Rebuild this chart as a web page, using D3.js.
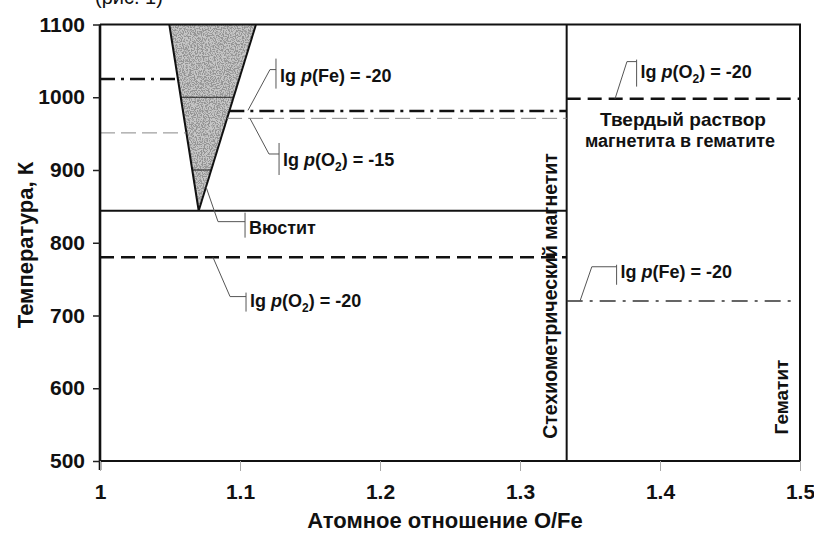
<!DOCTYPE html>
<html>
<head>
<meta charset="utf-8">
<script src="https://cdn.jsdelivr.net/npm/d3@7"></script>
<style>
  body { margin: 0; background: #fff; }
  svg text { font-family: "Liberation Sans", Arial, sans-serif; font-weight: bold; fill: #111; }
</style>
</head>
<body>
<svg id="chart" width="814" height="533"></svg>
<script>
//^^^^^^^^^^^^^^^^^^^^^^^^^^^^^^^^^^^^^^^^^^^^^^^^^^^^^^^^^^^^^^^^^^^^^^^^^^^^^^
// Data: O/Fe ratio vs temperature, K
//------------------------------------------------------------------------------
var xTicks = [1, 1.1, 1.2, 1.3, 1.4, 1.5]
var yTicks = [500, 600, 700, 800, 900, 1000, 1100]
var magnetiteX = 4 / 3

// wüstite field: left edge, apex, right edge
var wustiteLeft = [[1.0495, 1100], [1.0705, 844]]
var wustiteRight = [[1.0705, 844], [1.1114, 1100]]
var wustiteIsotherms = [1000, 900]
var eutectoidT = 844

// isobar segments; "wL"/"wR" = ends on the wüstite boundary
var isobars = [
  {t: 1025, from: 1, to: "wL", style: "dashdot"},
  {t: 951, from: 1, to: "wL", style: "thin"},
  {t: 981, from: "wR", to: magnetiteX, style: "dashdot"},
  {t: 971, from: "wR", to: magnetiteX, style: "thin"},
  {t: 780, from: 1, to: magnetiteX, style: "dash"},
  {t: 998, from: magnetiteX, to: 1.5, style: "dash"},
  {t: 720, from: magnetiteX, to: 1.497, style: "dashdotThin"}
]

// callouts: target point on a line, knee of the leader, bar position
var callouts = [
  {text: ["lg ", "p", "(Fe) = -20"], target: [1.1057, 982], knee: [1.1214, 1038], bar: 1.1257, span: [-11, 19], base: 12},
  {text: ["lg ", "p", "(O", "2", ") = -15"], target: [1.1071, 971], knee: [1.1207, 922], bar: 1.1279, span: [-11, 21], base: 12},
  {text: ["Вюстит"], target: [1.0757, 877], knee: [1.0843, 829], bar: 1.1036, span: [-9, 16], base: 12},
  {text: ["lg ", "p", "(O", "2", ") = -20"], target: [1.0807, 780], knee: [1.0929, 726], bar: 1.1043, span: [-4, 15], base: 10},
  {text: ["lg ", "p", "(O", "2", ") = -20"], target: [1.3679, 998], knee: [1.3764, 1049], bar: 1.3833, span: [-2, 25], base: 16},
  {text: ["lg ", "p", "(Fe) = -20"], target: [1.3429, 720], knee: [1.3513, 767], bar: 1.3690, span: [-2, 18], base: 11}
]

//^^^^^^^^^^^^^^^^^^^^^^^^^^^^^^^^^^^^^^^^^^^^^^^^^^^^^^^^^^^^^^^^^^^^^^^^^^^^^^
// Setup
//------------------------------------------------------------------------------
var svg = d3.select("#chart")
var margin = {left: 100, right: 14, top: 24.5, bottom: 72}
var width = 814 - margin.left - margin.right,
    height = 533 - margin.top - margin.bottom

var x = d3.scaleLinear().domain([1, 1.5]).range([margin.left, margin.left + width])
var y = d3.scaleLinear().domain([500, 1100]).range([margin.top + height, margin.top])

var styles = {
  dash: {stroke: "#111", w: 2.6, dash: "14,7"},
  dashdot: {stroke: "#111", w: 2.6, dash: "15,6,3,6"},
  thin: {stroke: "#888", w: 1, dash: "15,6"},
  dashdotThin: {stroke: "#333", w: 1.4, dash: "16,7,3,7"}
}

function edgeX(edge, t) {
  var e = edge == "wL" ? wustiteLeft : wustiteRight
  var k = (t - e[0][1]) / (e[1][1] - e[0][1])
  return e[0][0] + k * (e[1][0] - e[0][0])
}

var defs = svg.append("defs")
var filt = defs.append("filter").attr("id", "stipple")
  .attr("x", 0).attr("y", 0).attr("width", 1).attr("height", 1)
filt.append("feTurbulence")
  .attr("type", "fractalNoise").attr("baseFrequency", 0.85)
  .attr("numOctaves", 2).attr("seed", 3).attr("result", "n")
filt.append("feColorMatrix").attr("in", "n").attr("type", "matrix")
  .attr("values", "0 0 0 0 0.3  0 0 0 0 0.3  0 0 0 0 0.3  7 0 0 0 -3.1")
  .attr("result", "dots")
filt.append("feComposite").attr("in", "dots").attr("in2", "SourceGraphic").attr("operator", "in")

var tri = [wustiteLeft[0], wustiteLeft[1], wustiteRight[1]]
var triPts = tri.map(function(p){ return x(p[0]) + "," + y(p[1]) }).join(" ")
defs.append("clipPath").attr("id", "triClip")
  .append("polygon").attr("points", triPts)

//^^^^^^^^^^^^^^^^^^^^^^^^^^^^^^^^^^^^^^^^^^^^^^^^^^^^^^^^^^^^^^^^^^^^^^^^^^^^^^
// Wüstite field
//------------------------------------------------------------------------------
svg.append("polygon").attr("points", triPts).attr("fill", "#c6c6c6")
svg.append("polygon").attr("points", triPts).attr("fill", "#000").attr("filter", "url(#stipple)")

svg.append("g").attr("clip-path", "url(#triClip)")
  .selectAll("line").data(wustiteIsotherms).enter().append("line")
  .attr("x1", x(1)).attr("x2", x(1.2))
  .attr("y1", function(t){ return y(t) }).attr("y2", function(t){ return y(t) })
  .attr("stroke", "#222").attr("stroke-width", 1.2)

var line = d3.line().x(function(p){ return x(p[0]) }).y(function(p){ return y(p[1]) })
svg.append("path").attr("d", line(wustiteLeft)).attr("stroke", "#111").attr("stroke-width", 2).attr("fill", "none")
svg.append("path").attr("d", line(wustiteRight)).attr("stroke", "#111").attr("stroke-width", 2).attr("fill", "none")

//^^^^^^^^^^^^^^^^^^^^^^^^^^^^^^^^^^^^^^^^^^^^^^^^^^^^^^^^^^^^^^^^^^^^^^^^^^^^^^
// Boundaries and isobars
//------------------------------------------------------------------------------
svg.append("line")
  .attr("x1", x(1)).attr("x2", x(magnetiteX))
  .attr("y1", y(eutectoidT)).attr("y2", y(eutectoidT))
  .attr("stroke", "#111").attr("stroke-width", 2)

svg.append("line")
  .attr("x1", x(magnetiteX)).attr("x2", x(magnetiteX))
  .attr("y1", y(1100)).attr("y2", y(500))
  .attr("stroke", "#111").attr("stroke-width", 2)

svg.selectAll("line.isobar").data(isobars).enter().append("line")
  .attr("class", "isobar")
  .attr("x1", function(d){ return x(typeof d.from == "string" ? edgeX(d.from, d.t) : d.from) })
  .attr("x2", function(d){ return x(typeof d.to == "string" ? edgeX(d.to, d.t) : d.to) })
  .attr("y1", function(d){ return y(d.t) }).attr("y2", function(d){ return y(d.t) })
  .attr("stroke", function(d){ return styles[d.style].stroke })
  .attr("stroke-width", function(d){ return styles[d.style].w })
  .attr("stroke-dasharray", function(d){ return styles[d.style].dash })

//^^^^^^^^^^^^^^^^^^^^^^^^^^^^^^^^^^^^^^^^^^^^^^^^^^^^^^^^^^^^^^^^^^^^^^^^^^^^^^
// Axes and frame
//------------------------------------------------------------------------------
var yAxis = svg.append("g")
  .attr("transform", "translate(" + margin.left + ",0)")
  .call(d3.axisLeft(y).tickValues(yTicks).tickSize(7).tickPadding(8).tickFormat(d3.format("d")))
yAxis.select(".domain").attr("stroke", "#111").attr("stroke-width", 2.6)
  .attr("d", "M0," + y(1100) + "V" + (y(500) + 9))
yAxis.selectAll(".tick line").attr("stroke", "#222").attr("stroke-width", 1.5)
yAxis.selectAll("text").style("font-size", "21px").attr("fill", "#111")

var xAxis = svg.append("g")
  .attr("transform", "translate(0," + y(500) + ")")
  .call(d3.axisBottom(x).tickValues(xTicks).tickSize(10).tickPadding(13).tickFormat(function(d){ return d3.format("")(+d.toFixed(1)) }))
xAxis.select(".domain").attr("stroke", "#111").attr("stroke-width", 2.2).attr("d", "M" + x(1) + ",0H" + x(1.5))
xAxis.selectAll(".tick line").attr("stroke", "#aaa").attr("stroke-width", 1)
xAxis.selectAll("text").style("font-size", "21px").attr("fill", "#111")

svg.append("path")
  .attr("d", "M" + x(1) + "," + y(1100) + "H" + x(1.5) + "V" + y(500))
  .attr("fill", "none").attr("stroke", "#111").attr("stroke-width", 2)

svg.append("text")
  .attr("transform", "translate(33," + 245 + ") rotate(-90)")
  .attr("text-anchor", "middle").style("font-size", "22px")
  .text("Температура, К")

svg.append("text")
  .attr("x", 445).attr("y", 528)
  .attr("text-anchor", "middle").style("font-size", "22px")
  .text("Атомное отношение O/Fe")

svg.append("text")
  .attr("x", 95).attr("y", 4).style("font-size", "20px").style("font-weight", "normal")
  .text("(рис. 1)")

//^^^^^^^^^^^^^^^^^^^^^^^^^^^^^^^^^^^^^^^^^^^^^^^^^^^^^^^^^^^^^^^^^^^^^^^^^^^^^^
// Region labels
//------------------------------------------------------------------------------
svg.append("text")
  .attr("transform", "translate(557,296) rotate(-90)")
  .attr("text-anchor", "middle").style("font-size", "19.5px")
  .text("Стехиометрический магнетит")

svg.append("text")
  .attr("transform", "translate(788,397) rotate(-90)")
  .attr("text-anchor", "middle").style("font-size", "19px")
  .text("Гематит")

svg.append("text")
  .attr("x", 683).attr("y", 126)
  .attr("text-anchor", "middle").style("font-size", "19px")
  .text("Твердый раствор")
svg.append("text")
  .attr("x", 680).attr("y", 147)
  .attr("text-anchor", "middle").style("font-size", "18px")
  .text("магнетита в гематите")

//^^^^^^^^^^^^^^^^^^^^^^^^^^^^^^^^^^^^^^^^^^^^^^^^^^^^^^^^^^^^^^^^^^^^^^^^^^^^^^
// Callouts
//------------------------------------------------------------------------------
var co = svg.selectAll("g.callout").data(callouts).enter().append("g").attr("class", "callout")

co.append("path")
  .attr("d", function(d){
    var ky = y(d.knee[1])
    return "M" + x(d.target[0]) + "," + y(d.target[1]) +
      "L" + x(d.knee[0]) + "," + ky + "H" + x(d.bar)
  })
  .attr("fill", "none").attr("stroke", "#555").attr("stroke-width", 1)

co.append("line")
  .attr("x1", function(d){ return x(d.bar) }).attr("x2", function(d){ return x(d.bar) })
  .attr("y1", function(d){ return y(d.knee[1]) + d.span[0] })
  .attr("y2", function(d){ return y(d.knee[1]) + d.span[1] })
  .attr("stroke", "#555").attr("stroke-width", 1)

co.append("text")
  .attr("x", function(d){ return x(d.bar) + 4 })
  .attr("y", function(d){ return y(d.knee[1]) + d.base })
  .style("font-size", "18px")
  .each(function(d){
    var t = d3.select(this)
    d.text.forEach(function(s, i){
      var ts = t.append("tspan").text(s)
      if (s == "p") ts.style("font-style", "italic")
      if (s == "2") ts.style("font-size", "12px").attr("dy", 5)
      else if (i > 0 && d.text[i - 1] == "2") ts.attr("dy", -5)
    })
  })
</script>
</body>
</html>
